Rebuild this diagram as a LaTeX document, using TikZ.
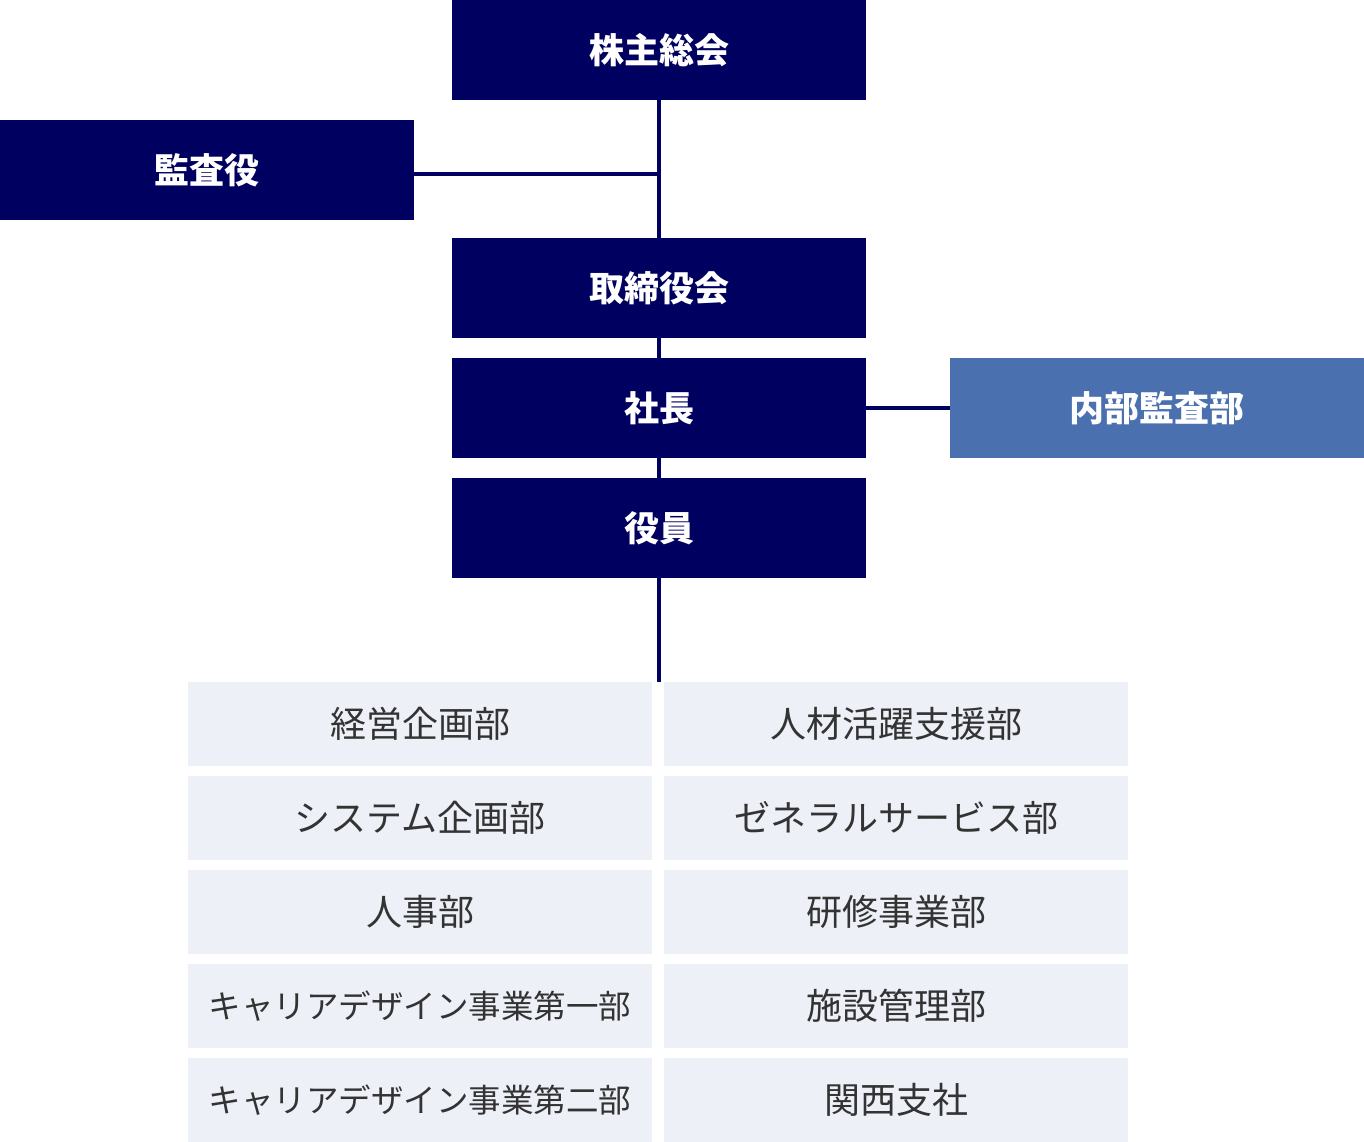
\documentclass[tikz,border=0pt]{standalone}
\usepackage{fontspec}
\setmainfont{Noto Sans CJK JP}
\definecolor{navy}{HTML}{000060}
\definecolor{midblue}{HTML}{4A70B0}
\definecolor{pale}{HTML}{EDF0F7}
\definecolor{txt}{HTML}{333333}
\begin{document}
\begin{tikzpicture}[x=1pt,y=-1pt,
  dbox/.style={fill=navy, text=white, minimum width=414pt, minimum height=100pt, inner sep=0pt, anchor=north west,
    font=\fontsize{35}{35}\selectfont\bfseries},
  bbox/.style={dbox, fill=midblue},
  gbox/.style={fill=pale, text=txt, minimum width=464pt, minimum height=84pt, inner sep=0pt, anchor=north west,
    font=\fontsize{36}{36}\selectfont},
  gtight/.style={font=\fontsize{32.5}{32.5}\selectfont},
  conn/.style={draw=navy, line width=4pt}]
\useasboundingbox (0,0) rectangle (1364,1142);
\node[dbox] (kabu) at (452,0) {株主総会};
\node[dbox] (kansa) at (0,120) {監査役};
\node[dbox] (tori) at (452,238) {取締役会};
\node[dbox] (shacho) at (452,358) {社長};
\node[bbox] (naibu) at (950,358) {内部監査部};
\node[dbox] (yakuin) at (452,478) {役員};
\coordinate (j) at (kabu.south |- 0,174);
\coordinate (gtop) at (yakuin.south |- 0,682);
\draw[conn] (kabu.south) -- (tori.north);
\draw[conn] (kansa.east |- j) -- (j);
\draw[conn] (tori.south) -- (shacho.north);
\draw[conn] (shacho.south) -- (yakuin.north);
\draw[conn] (shacho.east) -- (naibu.west);
\draw[conn] (yakuin.south) -- (gtop);
\node[gbox] (l1) at (188,682) {経営企画部};
\node[gbox] (l2) at (188,776) {システム企画部};
\node[gbox] (l3) at (188,870) {人事部};
\node[gbox, gtight] (l4) at (188,964) {キャリアデザイン事業第一部};
\node[gbox, gtight] (l5) at (188,1058) {キャリアデザイン事業第二部};
\node[gbox] (r1) at (664,682) {人材活躍支援部};
\node[gbox] (r2) at (664,776) {ゼネラルサービス部};
\node[gbox] (r3) at (664,870) {研修事業部};
\node[gbox] (r4) at (664,964) {施設管理部};
\node[gbox] (r5) at (664,1058) {関西支社};
\end{tikzpicture}
\end{document}
